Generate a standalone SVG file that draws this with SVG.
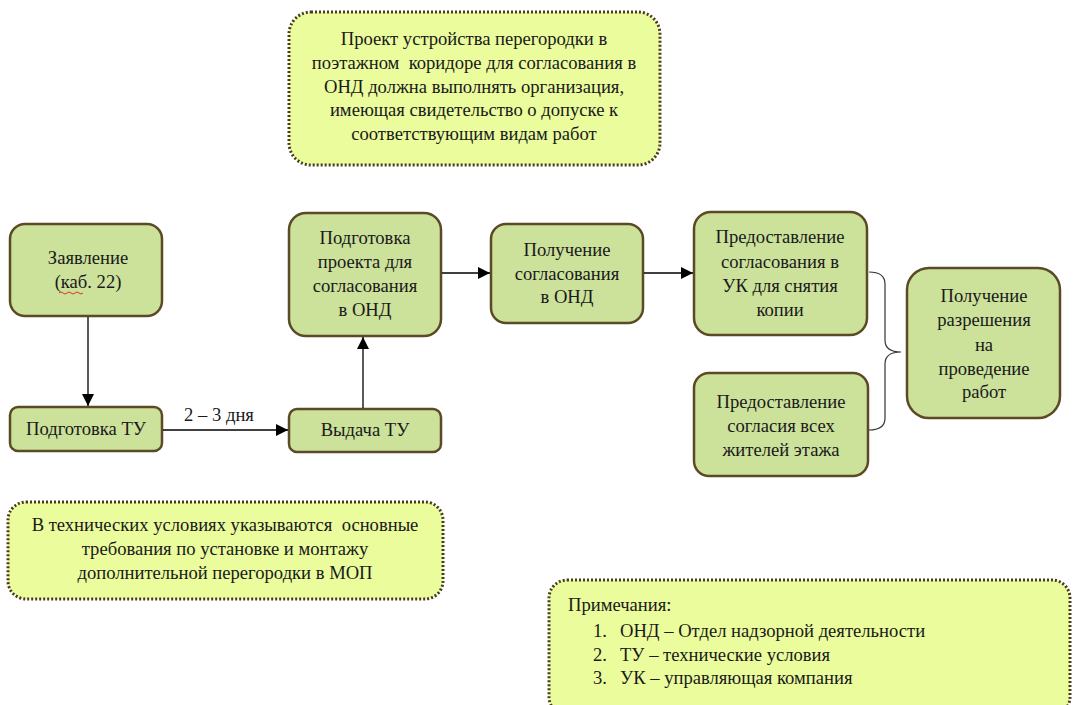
<svg xmlns="http://www.w3.org/2000/svg" width="1074" height="705" viewBox="0 0 1074 705">
<defs>
<marker id="arr" viewBox="0 0 12 12" refX="12" refY="6" markerWidth="12" markerHeight="12" markerUnits="userSpaceOnUse" orient="auto">
<path d="M0,0 L12,6 L0,12 Z" fill="#000"/>
</marker>
<style>
.node{fill:#cce19a;stroke:#5b4a26;stroke-width:2.5}
.note{fill:#eafc9c;stroke:#4a3b1e;stroke-width:3;stroke-dasharray:2 2}
.t{font-family:"Liberation Serif","Times New Roman",serif;font-size:18.6px;fill:#1a1a1a;text-anchor:middle}
.l{font-family:"Liberation Serif","Times New Roman",serif;font-size:18.6px;fill:#1a1a1a;text-anchor:start}
.conn{stroke:#000;stroke-width:1.3;fill:none}
</style>
</defs>
<rect width="1074" height="705" fill="#fff"/>

<g id="note-top">
<rect class="note" x="289" y="12" width="371" height="153" rx="22"/>
<text class="t" x="474" y="45">Проект устройства перегородки в</text>
<text class="t" x="474" y="69" xml:space="preserve">поэтажном  коридоре для согласования в</text>
<text class="t" x="474" y="93">ОНД должна выполнять организация,</text>
<text class="t" x="474" y="116">имеющая свидетельство о допуске к</text>
<text class="t" x="474" y="140">соответствующим видам работ</text>
</g>

<g id="zayavlenie">
<rect class="node" x="10" y="224" width="152" height="92" rx="15"/>
<text class="t" x="88" y="264">Заявление</text>
<text class="t" x="88" y="288">(каб. 22)</text>
<path d="M59,293 q2,-2 4,0 t4,0 t4,0 t4,0 t4,0 t4,0" stroke="#e02020" stroke-width="0.9" fill="none"/>
</g>

<g id="podgotovka-tu">
<rect class="node" x="10" y="407" width="152" height="44" rx="8"/>
<text class="t" x="86" y="435">Подготовка ТУ</text>
</g>

<g id="vydacha-tu">
<rect class="node" x="289" y="409" width="152" height="43" rx="8"/>
<text class="t" x="365" y="436">Выдача ТУ</text>
</g>

<g id="podgotovka-proekta">
<rect class="node" x="289" y="213" width="152" height="123" rx="17"/>
<text class="t" x="365" y="244">Подготовка</text>
<text class="t" x="365" y="268">проекта для</text>
<text class="t" x="365" y="292">согласования</text>
<text class="t" x="365" y="316">в ОНД</text>
</g>

<g id="poluchenie-soglasovaniya">
<rect class="node" x="491" y="224" width="152" height="99" rx="15"/>
<text class="t" x="567" y="256">Получение</text>
<text class="t" x="567" y="280">согласования</text>
<text class="t" x="567" y="303">в ОНД</text>
</g>

<g id="predostavlenie-uk">
<rect class="node" x="694" y="212" width="173" height="123" rx="17"/>
<text class="t" x="780" y="243">Предоставление</text>
<text class="t" x="780" y="268">согласования в</text>
<text class="t" x="780" y="292">УК для снятия</text>
<text class="t" x="780" y="316">копии</text>
</g>

<g id="predostavlenie-zhiteley">
<rect class="node" x="694" y="373" width="174" height="103" rx="15"/>
<text class="t" x="781" y="408">Предоставление</text>
<text class="t" x="781" y="432">согласия всех</text>
<text class="t" x="781" y="456">жителей этажа</text>
</g>

<g id="poluchenie-razresheniya">
<rect class="node" x="907" y="268" width="153" height="150" rx="22"/>
<text class="t" x="984" y="302">Получение</text>
<text class="t" x="984" y="326">разрешения</text>
<text class="t" x="984" y="351">на</text>
<text class="t" x="984" y="375">проведение</text>
<text class="t" x="984" y="398">работ</text>
</g>

<g id="note-tu">
<rect class="note" x="8" y="502" width="435" height="97" rx="18"/>
<text class="t" x="225" y="531" xml:space="preserve">В технических условиях указываются  основные</text>
<text class="t" x="225" y="555">требования по установке и монтажу</text>
<text class="t" x="225" y="579">дополнительной перегородки в МОП</text>
</g>

<g id="note-remarks">
<rect class="note" x="549" y="580" width="521" height="135" rx="18"/>
<text class="l" x="568" y="611">Примечания:</text>
<text class="l" x="593" y="637">1.</text>
<text class="l" x="620" y="637">ОНД – Отдел надзорной деятельности</text>
<text class="l" x="593" y="661">2.</text>
<text class="l" x="620" y="661">ТУ – технические условия</text>
<text class="l" x="593" y="684">3.</text>
<text class="l" x="620" y="684">УК – управляющая компания</text>
</g>

<g id="connectors">
<line class="conn" x1="88" y1="317" x2="88" y2="406" marker-end="url(#arr)"/>
<line class="conn" x1="163" y1="430" x2="288" y2="430" marker-end="url(#arr)"/>
<text class="t" x="219" y="421">2 – 3 дня</text>
<line class="conn" x1="363" y1="408" x2="363" y2="337" marker-end="url(#arr)"/>
<line class="conn" x1="442" y1="273" x2="490" y2="273" marker-end="url(#arr)"/>
<line class="conn" x1="644" y1="273" x2="693" y2="273" marker-end="url(#arr)"/>
<path d="M869,272 Q885,272 885,284 L885,340 Q885,352 901,352 Q885,352 885,364 L885,418 Q885,430 869,430" stroke="#333" stroke-width="1.2" fill="none"/>
</g>
</svg>
